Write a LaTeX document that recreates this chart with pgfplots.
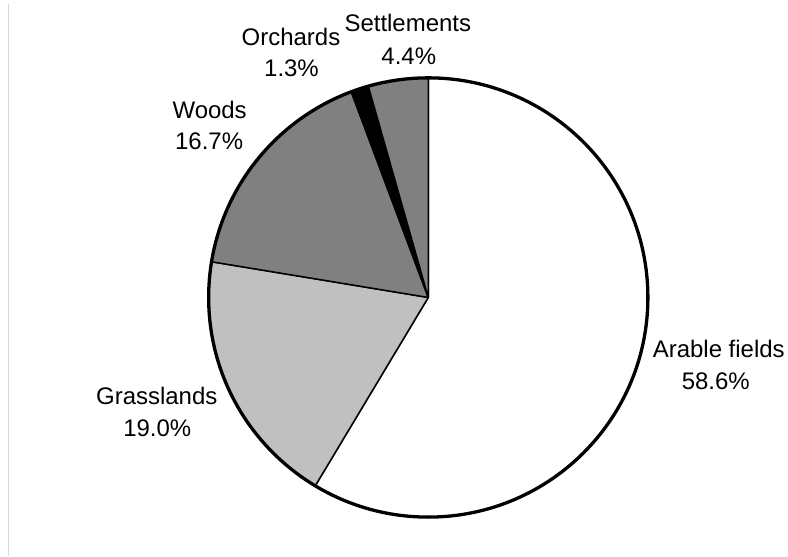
\documentclass[border=0pt]{standalone}
\usepackage{pgfplots}
\usepackage{pgfplotstable}
\pgfplotsset{compat=1.18}
\usepackage{fontspec}
\setmainfont{Liberation Sans}

\pgfplotstableread{
label value
Arable 58.6
Grass 19.0
Woods 16.7
Orchards 1.3
Settlements 4.4
}\piedata

\definecolor{lgray}{HTML}{C0C0C0}
\definecolor{mgray}{HTML}{808080}

\begin{document}
\begin{tikzpicture}[font=\fontsize{24bp}{28bp}\selectfont]
\pgfplotstablegetelem{0}{value}\of\piedata \let\vA\pgfplotsretval
\pgfplotstablegetelem{1}{value}\of\piedata \let\vB\pgfplotsretval
\pgfplotstablegetelem{2}{value}\of\piedata \let\vC\pgfplotsretval
\pgfplotstablegetelem{3}{value}\of\piedata \let\vD\pgfplotsretval
\pgfplotstablegetelem{4}{value}\of\piedata \let\vE\pgfplotsretval
\pgfmathsetmacro\aA{90}
\pgfmathsetmacro\aB{\aA-3.6*\vA}
\pgfmathsetmacro\aC{\aB-3.6*\vB}
\pgfmathsetmacro\aD{\aC-3.6*\vC}
\pgfmathsetmacro\aE{\aD-3.6*\vD}
\pgfmathsetmacro\aF{\aE-3.6*\vE}
\begin{axis}[scale only axis, width=788bp, height=557bp,
  xmin=0, xmax=788, ymin=0, ymax=557, hide axis, clip=false]
\path (axis cs:0,0) rectangle (axis cs:788,557);
\draw[color=black!15, line width=1bp] (axis cs:9,553) -- (axis cs:9,0);
\filldraw[fill=white, draw=black, line width=1.5bp, line join=round] (axis cs:429,259) -- ++(\aA:220bp) arc[start angle=\aA, end angle=\aB, radius=220bp] -- cycle;
\filldraw[fill=lgray, draw=black, line width=1.5bp, line join=round] (axis cs:429,259) -- ++(\aB:220bp) arc[start angle=\aB, end angle=\aC, radius=220bp] -- cycle;
\filldraw[fill=mgray, draw=black, line width=1.5bp, line join=round] (axis cs:429,259) -- ++(\aC:220bp) arc[start angle=\aC, end angle=\aD, radius=220bp] -- cycle;
\filldraw[fill=black, draw=black, line width=1.5bp, line join=round] (axis cs:429,259) -- ++(\aD:220bp) arc[start angle=\aD, end angle=\aE, radius=220bp] -- cycle;
\filldraw[fill=mgray, draw=black, line width=1.5bp, line join=round] (axis cs:429,259) -- ++(\aE:220bp) arc[start angle=\aE, end angle=\aF, radius=220bp] -- cycle;
\draw[line width=3.3bp] (axis cs:429,259) circle[radius=220bp];
\node[anchor=base] at (axis cs:408.5,525) {Settlements};
\node[anchor=base] at (axis cs:409.5,492) {4.4\%};
\node[anchor=base] at (axis cs:291.5,511) {Orchards};
\node[anchor=base] at (axis cs:292,480) {1.3\%};
\node[anchor=base] at (axis cs:210,438) {Woods};
\node[anchor=base] at (axis cs:209.5,407) {16.7\%};
\node[anchor=base] at (axis cs:157,152) {Grasslands};
\node[anchor=base] at (axis cs:157.5,120) {19.0\%};
\node[anchor=base] at (axis cs:720,199) {Arable fields};
\node[anchor=base] at (axis cs:717,167) {58.6\%};
\end{axis}
\end{tikzpicture}
\end{document}
